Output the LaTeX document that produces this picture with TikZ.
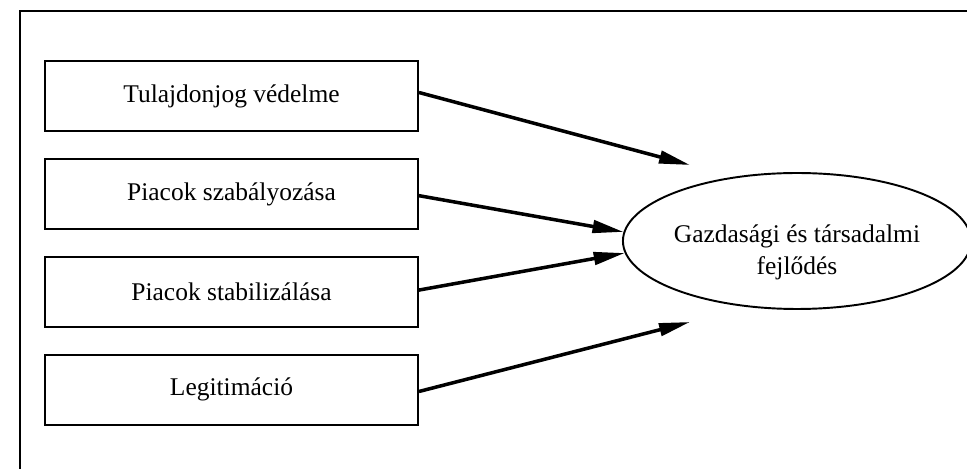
\documentclass[tikz,border=0pt]{standalone}
\usepackage{fontspec}
\setmainfont{Liberation Serif}
\usetikzlibrary{positioning, calc, shapes.geometric, arrows.meta}
\tikzstyle{Box} = [
draw,
line width=1.1pt,
minimum width=7.46cm,
minimum height=1.4cm,
inner sep=0pt,
font=\fontsize{14.5}{18}\selectfont]
\tikzstyle{Goal} = [
draw,
ellipse,
line width=1.1pt,
minimum width=6.68cm,
minimum height=2.72cm,
inner sep=0pt,
align=center,
font=\fontsize{14.5}{18.2}\selectfont]
\tikzstyle{Arrow} = [
line width=2pt,
-{Triangle[length=0.62cm, width=0.25cm]}]

\begin{document}
\begin{tikzpicture}[x=0.02cm, y=-0.02cm, node distance=0.52cm]
    \useasboundingbox (0,0) rectangle (967,469);
    \draw[line width=1.1pt] (20,469) -- (20,11) -- (967,11);

    \node [Box] at (231.5,96) (1) {Tulajdonjog védelme};
    \node [Box, below =of 1] (2) {Piacok szabályozása};
    \node [Box, below =of 2] (3) {Piacok stabilizálása};
    \node [Box, below =of 3] (4) {Legitimáció};
    \node [Goal] at (797,241) (5) {\rule{0pt}{0.8cm}Gazdasági és társadalmi\\fejlődés};
    \coordinate (6) at (690,165);
    \coordinate (7) at (690,322);

    \draw[Arrow] ([yshift=2pt]1.east) -- (6);
    \draw[Arrow] ([yshift=-1pt]2.east) -- (5.177);
    \draw[Arrow] ([yshift=1pt]3.east) -- (5.184);
    \draw[Arrow] ([yshift=-1pt]4.east) -- (7);
\end{tikzpicture}
\end{document}
